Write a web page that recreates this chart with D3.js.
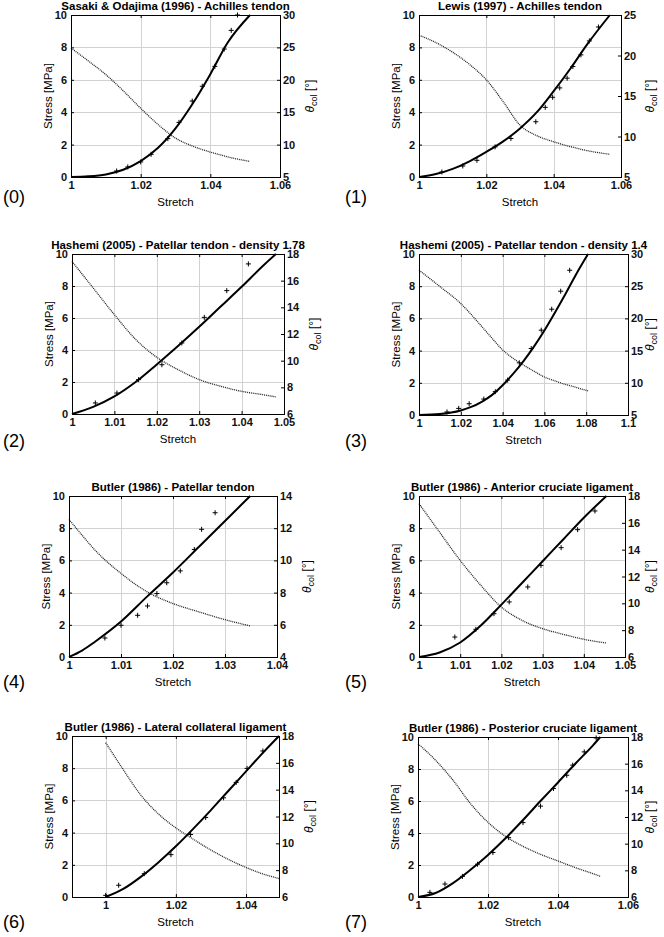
<!DOCTYPE html>
<html><head><meta charset="utf-8">
<script src="https://cdn.jsdelivr.net/npm/d3@7"></script>
<style>
body{margin:0;background:#fff}
svg{display:block}
text{font-family:"Liberation Sans",Arial,Helvetica,sans-serif}
</style>
</head><body>
<svg id="chart" width="664" height="937"></svg>
<script>
// ---------- DATA ----------
const titles = [
  "Sasaki & Odajima (1996) - Achilles tendon",
  "Lewis (1997) - Achilles tendon",
  "Hashemi (2005) - Patellar tendon - density 1.78",
  "Hashemi (2005) - Patellar tendon - density 1.4",
  "Butler (1986) - Patellar tendon",
  "Butler (1986) - Anterior cruciate ligament",
  "Butler (1986) - Lateral collateral ligament",
  "Butler (1986) - Posterior cruciate ligament"
];
const panelLabels = ["(0)","(1)","(2)","(3)","(4)","(5)","(6)","(7)"];
const xDomains = [[1,1.06],[1,1.06],[1,1.05],[1,1.1],[1,1.04],[1,1.05],[0.9904,1.0494],[1,1.06]];
const xTicks = [
  [1,1.02,1.04,1.06],[1,1.02,1.04,1.06],[1,1.01,1.02,1.03,1.04,1.05],[1,1.02,1.04,1.06,1.08,1.1],
  [1,1.01,1.02,1.03,1.04],[1,1.01,1.02,1.03,1.04,1.05],[1,1.02,1.04],[1,1.02,1.04,1.06]
];
const stressDomain = [0,10];
const stressTicks = [0,2,4,6,8,10];
const thetaDomains = [[5,30],[5,25],[6,18],[5,30],[4,14],[6,18],[6,18],[6,18]];
const thetaTicks = [
  [5,10,15,20,25,30],[5,10,15,20,25],[6,8,10,12,14,16,18],[5,10,15,20,25,30],
  [4,6,8,10,12,14],[6,8,10,12,14,16,18],[6,8,10,12,14,16,18],[6,8,10,12,14,16,18]
];
// model curves (stretch, stress [MPa], theta_col [deg])
const modelStretch = [
  [1,1.005,1.01,1.015,1.02,1.025,1.03,1.035,1.04,1.045,1.0514],
  [1,1.005,1.01,1.015,1.02,1.025,1.03,1.035,1.04,1.045,1.05,1.0567],
  [1,1.005,1.01,1.015,1.02,1.025,1.03,1.035,1.04,1.045,1.0481],
  [1,1.01,1.02,1.025,1.03,1.035,1.04,1.045,1.05,1.055,1.06,1.065,1.07,1.075,1.0809],
  [1,1.0025,1.005,1.01,1.015,1.02,1.025,1.03,1.03485],
  [1,1.005,1.01,1.015,1.02,1.025,1.03,1.035,1.04,1.0455],
  [1,1.005,1.01,1.015,1.02,1.025,1.03,1.035,1.04,1.045,1.0494],
  [1,1.005,1.01,1.015,1.02,1.025,1.03,1.035,1.04,1.045,1.05,1.0521]
];
const modelStress = [
  [0,0.04,0.16,0.45,0.98,1.8,3.0,4.55,6.35,8.3,10],
  [0,0.18,0.5,0.97,1.55,2.2,3.0,4.0,5.3,6.7,8.2,10],
  [0,0.45,1.1,2.0,3.1,4.25,5.45,6.7,7.95,9.25,10],
  [0,0.06,0.28,0.5,0.82,1.25,1.85,2.55,3.35,4.25,5.25,6.35,7.5,8.7,10],
  [0,0.4,0.95,2.2,3.75,5.25,6.85,8.45,10],
  [0,0.28,0.9,1.95,3.25,4.6,5.95,7.3,8.65,10],
  [0,0.5,1.25,2.15,3.15,4.25,5.4,6.6,7.8,9.0,10],
  [0,0.25,0.87,1.7,2.63,3.67,4.81,6.0,7.16,8.34,9.48,10]
];
const modelTheta = [
  [24.9,22.9,20.8,18.3,15.6,13.1,11.0,9.75,8.85,8.1,7.4],
  [22.5,21.6,20.4,18.9,17.0,14.3,11.4,10.1,9.35,8.75,8.25,7.8],
  [17.45,15.45,13.45,11.6,10.25,9.33,8.58,8.08,7.7,7.45,7.28],
  [27.5,24.95,22.3,20.6,18.75,16.9,15.1,13.8,12.75,11.8,10.9,10.3,9.75,9.3,8.75],
  [12.55,11.57,10.64,9.19,8.05,7.32,6.8,6.32,5.93],
  [17.43,15.3,13.2,11.34,9.72,8.73,8.11,7.69,7.32,7.04],
  [17.5,15.5,13.6,12.2,11.15,10.3,9.5,8.8,8.2,7.7,7.37],
  [17.5,16.26,14.76,13.0,11.6,10.55,9.8,9.2,8.7,8.2,7.75,7.55]
];
// experimental points (stretch, stress [MPa])
const expStretch = [
  [1.0131,1.0163,1.020,1.023,1.0278,1.031,1.0348,1.0377,1.0413,1.044,1.046,1.0478],
  [1.0068,1.013,1.0172,1.0226,1.0273,1.0347,1.0375,1.0397,1.0418,1.044,1.0457,1.0481,1.0506,1.0533],
  [1.0055,1.0106,1.0157,1.0212,1.0259,1.0312,1.0365,1.0416],
  [1.0134,1.019,1.024,1.031,1.0365,1.0424,1.048,1.0537,1.0585,1.0635,1.0678,1.0721],
  [1.0069,1.01,1.0132,1.0151,1.0169,1.0188,1.0214,1.0241,1.0255,1.0281],
  [1.0087,1.0138,1.0182,1.0219,1.0264,1.0296,1.0345,1.0385,1.0427],
  [1.0,1.0037,1.011,1.0186,1.0242,1.0285,1.0336,1.0372,1.0403,1.0448],
  [1.0034,1.0077,1.0127,1.017,1.0214,1.0259,1.03,1.035,1.0387,1.0425,1.0442,1.0475,1.0509]
];
const expStress = [
  [0.37,0.62,0.93,1.4,2.37,3.37,4.69,5.6,6.83,7.9,9.05,10.0],
  [0.31,0.68,1.03,1.86,2.38,3.41,4.3,4.92,5.5,6.1,6.82,7.54,8.4,9.26],
  [0.69,1.31,2.15,3.08,4.44,6.04,7.71,9.38],
  [0.19,0.41,0.70,0.99,1.45,2.17,3.24,4.13,5.27,6.57,7.69,8.99],
  [1.18,1.97,2.59,3.17,3.94,4.61,5.35,6.68,7.93,8.96],
  [1.24,1.72,2.69,3.42,4.35,5.69,6.79,7.91,9.07],
  [0.1,0.73,1.45,2.63,3.88,4.94,6.16,7.12,7.99,9.07],
  [0.29,0.81,1.29,2.05,2.78,3.71,4.65,5.68,6.78,7.61,8.24,9.07,9.94]
];

// ---------- LAYOUT ----------
const layout = [
  {l:71,r:280,t:15,b:177},{l:419,r:621,t:15,b:177},
  {l:72,r:284,t:254,b:414},{l:419,r:628,t:254,b:415},
  {l:69,r:277,t:496,b:657},{l:419,r:625,t:496,b:657},
  {l:72,r:279,t:736,b:897},{l:418,r:628,t:737,b:897}
];
const labelPos = [
  {x:3,y:203},{x:345,y:203},{x:3,y:447},{x:345,y:447},
  {x:3,y:688},{x:345,y:688},{x:3,y:928},{x:345,y:928}
];

const svg = d3.select("#chart");
const fmt = v => String(+v.toFixed(2));

titles.forEach((title, i) => {
  const L = layout[i];
  const g = svg.append("g");
  const x = d3.scaleLinear().domain(xDomains[i]).range([L.l, L.r]);
  const yL = d3.scaleLinear().domain(stressDomain).range([L.b, L.t]);
  const yR = d3.scaleLinear().domain(thetaDomains[i]).range([L.b, L.t]);

  // grid
  const grid = g.append("g").attr("stroke", "#d2d2d2").attr("stroke-width", 1);
  xTicks[i].forEach(v => {
    const px = Math.round(x(v)) + 0.5;
    grid.append("line").attr("x1", px).attr("x2", px).attr("y1", L.t).attr("y2", L.b);
  });
  stressTicks.forEach(v => {
    const py = Math.round(yL(v)) + 0.5;
    grid.append("line").attr("x1", L.l).attr("x2", L.r).attr("y1", py).attr("y2", py);
  });

  // axes
  const styleAxis = sel => {
    sel.select(".domain").remove();
    sel.selectAll("line").attr("stroke", "#000");
    sel.selectAll("text").attr("font-size", 11).attr("font-weight", "bold")
      .attr("font-family", '"Liberation Sans",Arial,sans-serif').attr("fill", "#111");
  };
  g.append("g").attr("transform", `translate(0,${L.b})`)
    .call(d3.axisBottom(x).tickValues(xTicks[i]).tickFormat(fmt).tickSizeInner(-3).tickSizeOuter(0).tickPadding(4))
    .call(styleAxis);
  g.append("g").attr("transform", `translate(0,${L.t})`)
    .call(d3.axisTop(x).tickValues(xTicks[i]).tickFormat("").tickSizeInner(-3).tickSizeOuter(0))
    .call(styleAxis);
  g.append("g").attr("transform", `translate(${L.l},0)`)
    .call(d3.axisLeft(yL).tickValues(stressTicks).tickFormat(d3.format("d")).tickSizeInner(-3).tickSizeOuter(0).tickPadding(4))
    .call(styleAxis);
  g.append("g").attr("transform", `translate(${L.r},0)`)
    .call(d3.axisRight(yR).tickValues(thetaTicks[i]).tickFormat(d3.format("d")).tickSizeInner(-3).tickSizeOuter(0).tickPadding(3))
    .call(styleAxis);

  // theta curve (dotted)
  const thetaPts = modelStretch[i].map((s, k) => [s, modelTheta[i][k]]);
  g.append("path").datum(thetaPts)
    .attr("fill", "none").attr("stroke", "#222").attr("stroke-width", 1.3)
    .attr("stroke-dasharray", "1,0.9")
    .attr("d", d3.line().x(d => x(d[0])).y(d => yR(d[1])).curve(d3.curveMonotoneX));

  // stress model curve
  const stressPts = modelStretch[i].map((s, k) => [s, modelStress[i][k]]);
  g.append("path").datum(stressPts)
    .attr("fill", "none").attr("stroke", "#000").attr("stroke-width", 2)
    .attr("d", d3.line().x(d => x(d[0])).y(d => yL(d[1])).curve(d3.curveMonotoneX));

  // experimental '+' markers
  const expPts = expStretch[i].map((s, k) => [s, expStress[i][k]]);
  g.append("g").selectAll("path").data(expPts).join("path")
    .attr("transform", d => `translate(${x(d[0])},${yL(d[1])})`)
    .attr("d", "M-2.5,0H2.5M0,-2.5V2.5")
    .attr("stroke", "#000").attr("stroke-width", 1);

  // box
  g.append("rect").attr("x", L.l + 0.5).attr("y", L.t + 0.5)
    .attr("width", L.r - L.l).attr("height", L.b - L.t)
    .attr("fill", "none").attr("stroke", "#000").attr("stroke-width", 1);

  // title
  g.append("text").attr("x", (L.l + L.r) / 2).attr("y", L.t - 5)
    .attr("text-anchor", "middle").attr("font-size", 11.5).attr("font-weight", "bold")
    .text(title);

  // x label
  g.append("text").attr("x", (L.l + L.r) / 2).attr("y", L.b + 29)
    .attr("text-anchor", "middle").attr("font-size", 11.5).text("Stretch");

  // left y label
  g.append("text").attr("transform", `translate(${L.l - 23},${(L.t + L.b) / 2}) rotate(-90)`)
    .attr("text-anchor", "middle").attr("dy", "0.35em").attr("font-size", 11.5)
    .text("Stress [MPa]");

  // right y label
  const rx = Math.min(L.r + 32, 652);
  const rt = g.append("text").attr("transform", `translate(${rx},${(L.t + L.b) / 2}) rotate(-90)`)
    .attr("text-anchor", "middle").attr("dy", "0.2em").attr("font-size", 12);
  rt.append("tspan").attr("font-style", "italic").text("θ");
  rt.append("tspan").attr("font-size", 9).attr("dy", "3").text("col");
  rt.append("tspan").attr("dy", "-3").text(" [°]");

  // panel index label
  svg.append("text").attr("x", labelPos[i].x).attr("y", labelPos[i].y)
    .attr("font-size", 18).attr("font-family", '"Open Sans","Liberation Sans",sans-serif')
    .text(panelLabels[i]);
});
</script>
</body></html>
